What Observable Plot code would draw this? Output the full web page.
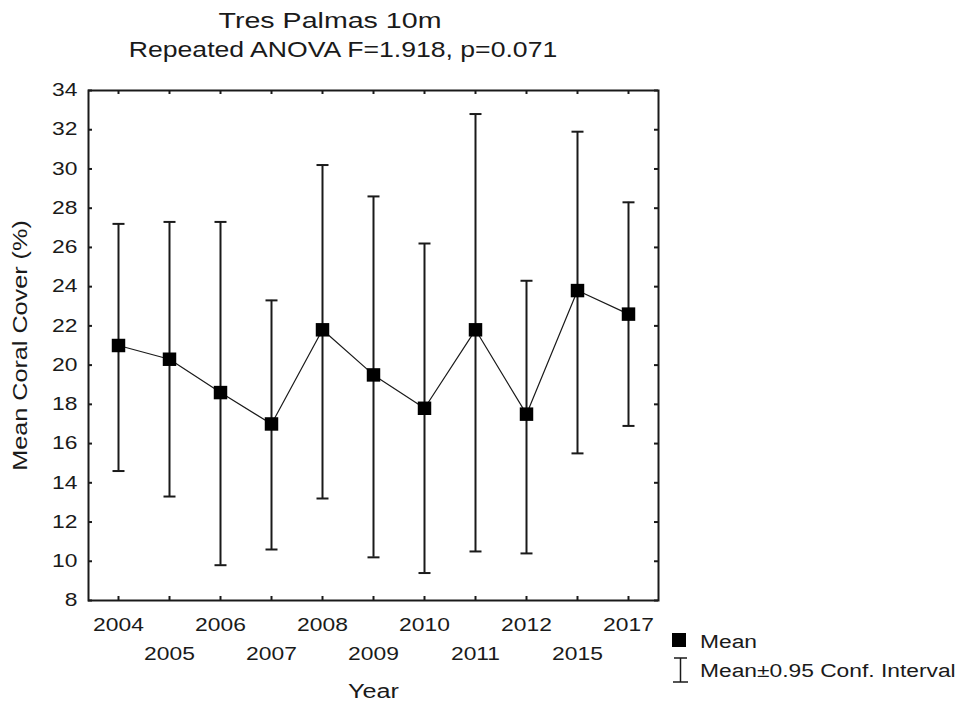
<!DOCTYPE html>
<html><head><meta charset="utf-8">
<script src="https://cdn.jsdelivr.net/npm/d3@7"></script>
<script src="https://cdn.jsdelivr.net/npm/@observablehq/plot@0.6"></script>
<style>
body{margin:0;background:#fff;}
#chart{position:relative;width:959px;height:710px;}
</style></head><body><div id="chart"></div>
<script>
const years = ["2004","2005","2006","2007","2008","2009","2010","2011","2012","2015","2017"];
const means = [21.0, 20.3, 18.6, 17.0, 21.8, 19.5, 17.8, 21.8, 17.5, 23.8, 22.6];
const upper = [27.2, 27.3, 27.3, 23.3, 30.2, 28.6, 26.2, 32.8, 24.3, 31.9, 28.3];
const lower = [14.6, 13.3, 9.8, 10.6, 13.2, 10.2, 9.4, 10.5, 10.4, 15.5, 16.9];
const yTicks = [8,10,12,14,16,18,20,22,24,26,28,30,32,34];
const xTicksRow1 = ["2004","2006","2008","2010","2012","2017"];
const xTicksRow2 = ["2005","2007","2009","2011","2015"];
const title1 = "Tres Palmas 10m";
const title2 = "Repeated ANOVA F=1.918, p=0.071";
const xLabel = "Year";
const yLabel = "Mean Coral Cover (%)";
const legendMean = "Mean";
const legendCI = "Mean\u00b10.95 Conf. Interval";

const data = years.map((year, i) => ({year, mean: means[i], lo: lower[i], hi: upper[i]}));

const W = 959, H = 710, mL = 88, mR = 301, mT = 90, mB = 110;
const fw = W - mL - mR, fh = H - mT - mB;
const ink = "#1a1a1a";
const tk = 4;

// horizontal cap symbol for the error bars
const capSymbol = {draw(ctx) { ctx.moveTo(-6, 0); ctx.lineTo(6, 0); }};

const plot = Plot.plot({
  width: W, height: H,
  marginLeft: mL, marginRight: mR, marginTop: mT, marginBottom: mB,
  style: {fontFamily: "'Liberation Sans', Arial, sans-serif", fontSize: "18px", color: ink, background: "#fff"},
  x: {type: "point", domain: years, padding: 0.5, label: null},
  y: {domain: [8, 34], label: null},
  marks: [
    Plot.ruleX(data, {x: "year", y1: "lo", y2: "hi", stroke: ink, strokeWidth: 2}),
    Plot.dot(data, {x: "year", y: "hi", symbol: capSymbol, fill: "none", stroke: ink, strokeWidth: 2}),
    Plot.dot(data, {x: "year", y: "lo", symbol: capSymbol, fill: "none", stroke: ink, strokeWidth: 2}),
    Plot.line(data, {x: "year", y: "mean", stroke: ink, strokeWidth: 1.2}),
    Plot.dot(data, {x: "year", y: "mean", symbol: "square", r: 7.6, fill: "#000", stroke: "none"}),
    Plot.frame({stroke: ink, strokeWidth: 2}),
    Plot.tickY(yTicks, {y: d => d, insetRight: fw - tk, stroke: ink, strokeWidth: 2}),
    Plot.tickY(yTicks, {y: d => d, insetLeft: fw - tk, stroke: ink, strokeWidth: 2}),
    Plot.tickX(years, {x: d => d, insetBottom: fh - tk, stroke: ink, strokeWidth: 2}),
    Plot.tickX(years, {x: d => d, insetTop: fh - tk, stroke: ink, strokeWidth: 2}),
    Plot.axisY({ticks: yTicks, tickSize: 0, tickPadding: 11, label: null, fill: ink}),
    Plot.axisX({ticks: xTicksRow1, tickSize: 0, tickPadding: 18, label: null, fill: ink}),
    Plot.axisX({ticks: xTicksRow2, tickSize: 0, tickPadding: 47, label: null, fill: ink}),
    Plot.text([yLabel], {text: d => d, frameAnchor: "left", rotate: -90, dx: -76, lineAnchor: "top", textAnchor: "middle", fontSize: 21, fill: ink}),
    Plot.text([xLabel], {text: d => d, frameAnchor: "bottom", dy: 83, lineAnchor: "top", textAnchor: "middle", fontSize: 21, fill: ink})
  ]
});

// widen glyphs along their baseline to match the reference's wide rendering
function widen(t, k) {
  const tr = t.getAttribute("transform") || "";
  let x = parseFloat(t.getAttribute("x"));
  if (!isFinite(x)) x = 0;
  t.setAttribute("transform", `${tr} translate(${x},0) scale(${k},1) translate(${-x},0)`);
}
const svg = d3.select(plot);
svg.selectAll("text").each(function() {
  const g = this.closest("g[aria-label]");
  const lab = g ? g.getAttribute("aria-label") : "";
  widen(this, /tick label/.test(lab) ? 1.27 : 1.2);
});

// title
const tg = svg.append("g").attr("fill", ink).attr("font-size", 22).attr("text-anchor", "middle");
tg.append("text").attr("transform", "translate(330,28) scale(1.3,1)").text(title1);
tg.append("text").attr("transform", "translate(343,57) scale(1.21,1)").text(title2);

// legend
const lg = svg.append("g").attr("fill", ink).attr("font-size", 19).attr("text-anchor", "start");
lg.append("rect").attr("x", 672).attr("y", 633).attr("width", 14).attr("height", 14).attr("fill", "#000");
lg.append("text").attr("transform", "translate(700,648) scale(1.2,1)").text(legendMean);
lg.append("line").attr("x1", 680.5).attr("x2", 680.5).attr("y1", 658).attr("y2", 682).attr("stroke", ink).attr("stroke-width", 1.5);
lg.append("line").attr("x1", 674).attr("x2", 687).attr("y1", 658).attr("y2", 658).attr("stroke", ink).attr("stroke-width", 1.5);
lg.append("line").attr("x1", 673).attr("x2", 688).attr("y1", 682).attr("y2", 682).attr("stroke", ink).attr("stroke-width", 1.5);
lg.append("text").attr("transform", "translate(700,677) scale(1.2,1)").text(legendCI);

document.getElementById("chart").appendChild(plot);
</script></body></html>
